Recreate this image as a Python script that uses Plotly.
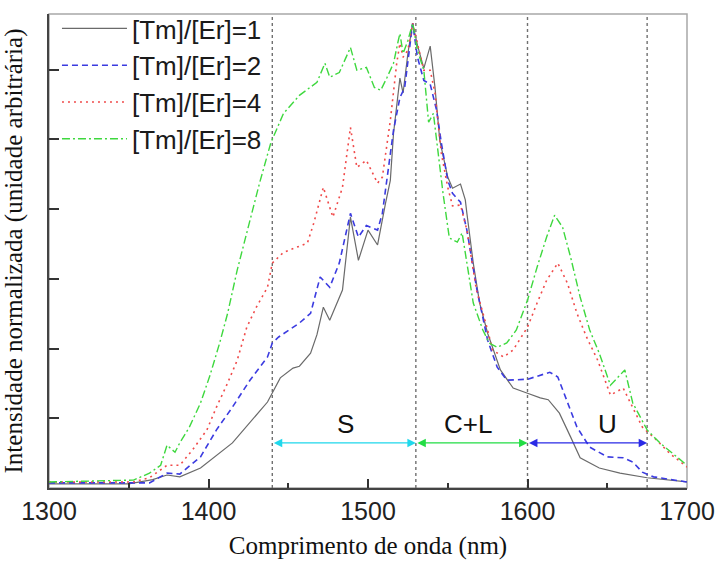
import plotly.graph_objects as go

# ---------------- data ----------------
wl_1 = [1300, 1350, 1365, 1374, 1382, 1395, 1415, 1437, 1445, 1453, 1457, 1464, 1468, 1472, 1476,
        1484, 1489, 1494, 1500, 1506, 1511, 1514, 1516, 1520, 1522, 1525, 1528, 1531, 1535, 1539,
        1542, 1545, 1550, 1553, 1558, 1561, 1562, 1566, 1570, 1575, 1583, 1591, 1600, 1608, 1613,
        1620, 1627, 1633, 1645, 1658, 1675, 1700]
int_1 = [0.009, 0.009, 0.018, 0.028, 0.024, 0.043, 0.097, 0.185, 0.237, 0.258, 0.262, 0.29, 0.33, 0.389, 0.361,
         0.426, 0.583, 0.49, 0.555, 0.523, 0.613, 0.662, 0.763, 0.882, 0.85, 0.935, 1.0, 0.953, 0.903, 0.951,
         0.862, 0.748, 0.669, 0.645, 0.654, 0.62, 0.591, 0.484, 0.398, 0.333, 0.254, 0.215, 0.204, 0.194, 0.19,
         0.161, 0.11, 0.065, 0.043, 0.032, 0.022, 0.013]

wl_2 = [1300, 1350, 1363, 1374, 1382, 1395, 1405, 1415, 1426, 1437, 1440, 1444, 1457, 1464, 1470, 1476,
        1482, 1489, 1494, 1499, 1506, 1509, 1516, 1520, 1523, 1528, 1531, 1535, 1539, 1543, 1546, 1550,
        1553, 1558, 1562, 1568, 1575, 1581, 1587, 1600, 1614, 1619, 1625, 1631, 1639, 1650, 1660, 1666,
        1672, 1679, 1700]
int_2 = [0.011, 0.011, 0.011, 0.032, 0.030, 0.067, 0.125, 0.174, 0.232, 0.282, 0.312, 0.325, 0.355, 0.376, 0.454, 0.432,
         0.484, 0.591, 0.54, 0.565, 0.555, 0.591, 0.77, 0.84, 0.862, 1.0, 0.927, 0.877, 0.869, 0.813, 0.742, 0.662,
         0.634, 0.615, 0.555, 0.432, 0.318, 0.26, 0.232, 0.234, 0.249, 0.239, 0.183, 0.131, 0.088, 0.067, 0.065, 0.056,
         0.034, 0.024, 0.013]

wl_4 = [1300, 1353, 1363, 1374, 1382, 1390, 1399, 1405, 1412, 1418, 1424, 1430, 1437, 1440, 1447, 1455,
        1462, 1466, 1472, 1476, 1478, 1484, 1489, 1493, 1499, 1506, 1509, 1514, 1518, 1520, 1522, 1525,
        1528, 1535, 1539, 1542, 1546, 1550, 1553, 1558, 1562, 1568, 1575, 1578, 1585, 1591, 1600, 1606,
        1612, 1619, 1625, 1631, 1637, 1644, 1652, 1660, 1666, 1672, 1681, 1689, 1700]
int_4 = [0.013, 0.013, 0.022, 0.049, 0.049, 0.082, 0.125, 0.174, 0.226, 0.275, 0.346, 0.389, 0.432, 0.484, 0.507, 0.518,
         0.527, 0.57, 0.647, 0.604, 0.583, 0.647, 0.776, 0.69, 0.705, 0.656, 0.669, 0.791, 0.914, 0.957, 0.927, 0.942,
         1.0, 0.899, 0.899, 0.85, 0.72, 0.647, 0.607, 0.609, 0.555, 0.426, 0.34, 0.297, 0.282, 0.297, 0.346, 0.398,
         0.447, 0.484, 0.441, 0.376, 0.325, 0.275, 0.2, 0.215, 0.174, 0.131, 0.103, 0.075, 0.045]

wl_8 = [1300, 1353, 1363, 1370, 1374, 1379, 1382, 1388, 1395, 1401, 1407, 1412, 1418, 1426, 1432, 1439,
        1447, 1457, 1468, 1473, 1476, 1482, 1489, 1493, 1499, 1504, 1508, 1512, 1516, 1519, 1520, 1522,
        1525, 1528, 1531, 1535, 1538, 1541, 1545, 1547, 1551, 1556, 1559, 1562, 1566, 1572, 1576, 1581,
        1587, 1593, 1600, 1606, 1612, 1617, 1622, 1627, 1633, 1639, 1645, 1652, 1661, 1666, 1675, 1683,
        1691, 1700]
int_8 = [0.013, 0.017, 0.032, 0.049, 0.092, 0.077, 0.097, 0.131, 0.183, 0.243, 0.312, 0.376, 0.469, 0.576, 0.656, 0.742,
         0.806, 0.845, 0.873, 0.914, 0.884, 0.894, 0.948, 0.899, 0.905, 0.862, 0.856, 0.884, 0.914, 0.963, 0.978, 0.935,
         0.963, 1.0, 0.942, 0.899, 0.787, 0.806, 0.684, 0.635, 0.538, 0.529, 0.549, 0.484, 0.398, 0.34, 0.312, 0.303,
         0.312, 0.34, 0.404, 0.475, 0.54, 0.587, 0.561, 0.497, 0.411, 0.34, 0.29, 0.221, 0.254, 0.183, 0.125, 0.097,
         0.075, 0.049]

series_names = ["[Tm]/[Er]=1", "[Tm]/[Er]=2", "[Tm]/[Er]=4", "[Tm]/[Er]=8"]
series_x = [wl_1, wl_2, wl_4, wl_8]
series_y = [int_1, int_2, int_4, int_8]

band_edges = [1440, 1530, 1600, 1675]
band_labels = ["S", "C+L", "U"]
band_label_x = [1486, 1563, 1650]
arrow_level = 0.097
label_level = 0.138

# ---------------- styles ----------------
line_colors = ["#6a6a6a", "#3b3be0", "#f04a4a", "#3ed83e"]
line_dashes = ["solid", "6px,4px", "2px,4px", "8px,3px,2px,3px"]
line_widths = [1.2, 1.6, 1.6, 1.4]
arrow_colors = ["#1fd8ec", "#22dd44", "#2a2ae6"]

fig = go.Figure()
for xs, ys, nm, c, d, w in zip(series_x, series_y, series_names, line_colors, line_dashes, line_widths):
    fig.add_trace(go.Scatter(x=xs, y=ys, name=nm, mode="lines",
                             line=dict(color=c, dash=d, width=w)))

shapes = []
# light frame (top/right)
shapes.append(dict(type="rect", xref="paper", yref="paper", x0=0, x1=1, y0=0, y1=1,
                   line=dict(color="#a8a8a8", width=1.5), layer="below"))
for e in band_edges:
    shapes.append(dict(type="line", xref="x", yref="paper", x0=e, x1=e, y0=0, y1=1,
                       line=dict(color="#707070", width=1.4, dash="3px,3px"), layer="below"))

annotations = []
for i, lab in enumerate(band_labels):
    annotations.append(dict(x=band_edges[i + 1], y=arrow_level, ax=band_edges[i], ay=arrow_level,
                            xref="x", yref="y", axref="x", ayref="y", text="", showarrow=True,
                            arrowhead=2, arrowside="end+start", arrowsize=1.3, arrowwidth=1.3,
                            arrowcolor=arrow_colors[i], standoff=0, startstandoff=0))
    annotations.append(dict(x=band_label_x[i], y=label_level, xref="x", yref="y", text=lab,
                            showarrow=False, font=dict(family="Liberation Sans, Arial", size=26, color="#111")))

fig.update_layout(
    width=715, height=563,
    margin=dict(l=49, r=28, t=14, b=75, autoexpand=False),
    paper_bgcolor="white", plot_bgcolor="white",
    showlegend=True,
    legend=dict(x=0.0125, y=1.019, xanchor="left", yanchor="top", bgcolor="rgba(0,0,0,0)",
                font=dict(family="Liberation Sans, Arial", size=26, color="#1a1a1a"),
                itemwidth=65, tracegroupgap=0),
    shapes=shapes,
    annotations=annotations,
    xaxis=dict(range=[1300, 1700], tickvals=[1300, 1400, 1500, 1600, 1700], ticks="inside",
               ticklen=9, tickwidth=1.5, tickcolor="#333", showgrid=False, zeroline=False,
               showline=True, linecolor="#444", linewidth=2, automargin=False,
               minor=dict(tickvals=[1350, 1450, 1550, 1650], ticks="inside", ticklen=5, tickwidth=1.5, tickcolor="#333"),
               tickfont=dict(family="Liberation Sans, Arial", size=25, color="#222"),
               title=dict(text="Comprimento de onda (nm)", standoff=12,
                          font=dict(family="Liberation Serif, Times New Roman", size=25, color="#111"))),
    yaxis=dict(range=[0, 1.02], dtick=0.15, tick0=0, ticks="inside", ticklen=10, tickwidth=1.5,
               tickcolor="#333", showticklabels=False, showgrid=False, zeroline=False,
               showline=True, linecolor="#444", linewidth=2, automargin=False,
               title=dict(text="Intensidade normalizada (unidade arbitrária)", standoff=18,
                          font=dict(family="Liberation Serif, Times New Roman", size=25, color="#111"))),
)

fig.write_html("out.html")
